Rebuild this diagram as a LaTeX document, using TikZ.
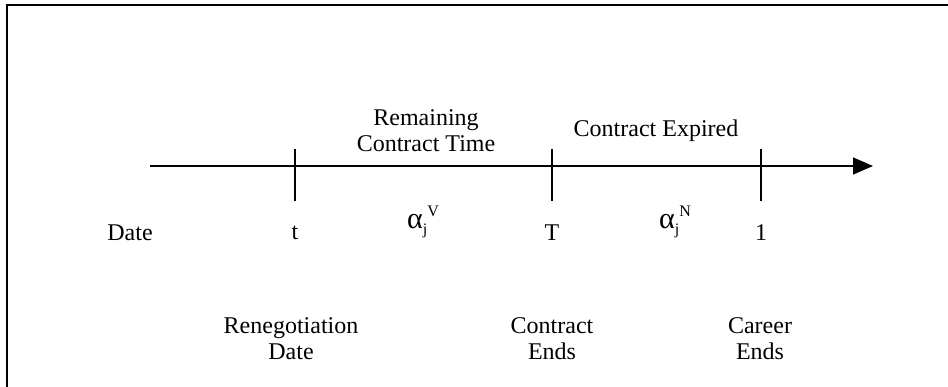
\documentclass[tikz,border=0pt]{standalone}
\usepackage{fontspec}
\setmainfont{Liberation Serif}
\usetikzlibrary{arrows.meta}
\newcommand{\smallidx}{\fontsize{16}{16}\selectfont}
\newcommand{\bigalpha}{{\fontsize{30}{30}\selectfont α}}
\begin{document}
\begin{tikzpicture}[x=1pt,y=-1pt,
  lbl/.style={font=\fontsize{24}{26}\selectfont, align=center, inner sep=0pt},
  tick/.style={line width=1.4pt},
  frame/.style={line width=2pt}]
\useasboundingbox (0,0) rectangle (948,387);
\coordinate (fl) at (6.5,387);
\coordinate (fc) at (6.5,5);
\coordinate (fr) at (948,5);
\draw[frame] (fl) -- (fc) -- (fr);
\coordinate (a0) at (150,166);
\coordinate (a1) at (873,166);
\draw[line width=1.4pt, -{Triangle[length=20pt,width=17pt]}] (a0) -- (a1);
\coordinate (t1) at (295,149); \coordinate (t2) at (295,201);
\coordinate (T1) at (552,149); \coordinate (T2) at (552,201);
\coordinate (o1) at (761,149); \coordinate (o2) at (761,201);
\draw[tick] (t1) -- (t2);
\draw[tick] (T1) -- (T2);
\draw[tick] (o1) -- (o2);
\node[lbl] (date) at (130,233) {Date};
\node[lbl] (tl) at (295,233) {t};
\node[lbl] (av) at (423,222) {\bigalpha\raisebox{-6pt}{\smallidx j}\raisebox{12pt}{\smallidx V}};
\node[lbl] (Tl) at (552,233) {T};
\node[lbl] (an) at (675,222) {\bigalpha\raisebox{-6pt}{\smallidx j}\raisebox{12pt}{\smallidx N}};
\node[lbl] (one) at (761,233) {1};
\node[lbl] (ren) at (291,339) {Renegotiation\\Date};
\node[lbl] (ce) at (552,339) {Contract\\Ends};
\node[lbl] (car) at (760,339) {Career\\Ends};
\node[lbl] (rem) at (426,131) {Remaining\\Contract Time};
\node[lbl] (exp) at (656,131) {Contract Expired};
\end{tikzpicture}
\end{document}
